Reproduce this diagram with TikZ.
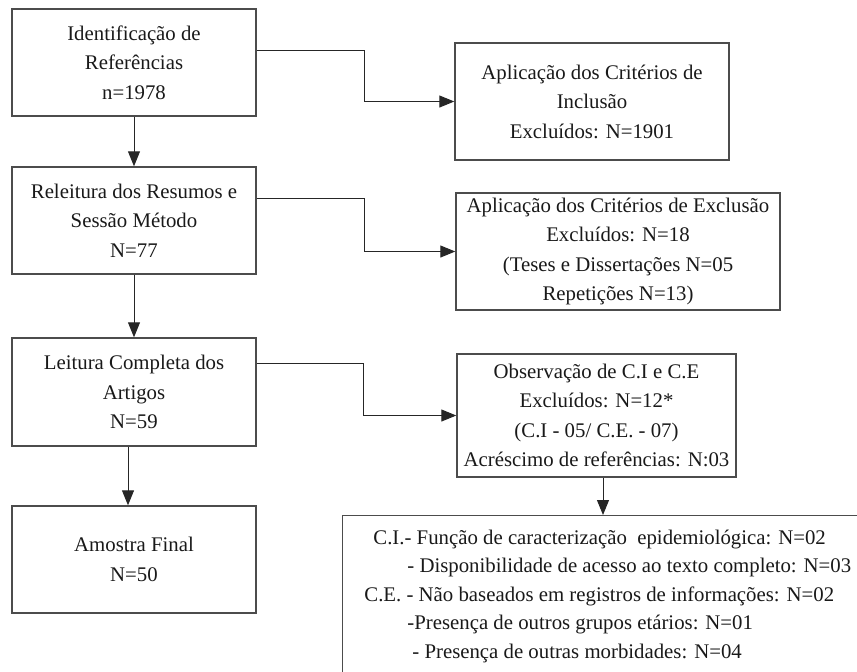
\documentclass[tikz,border=0pt]{standalone}
\usepackage{fontspec}
\setmainfont{Liberation Serif}
\usetikzlibrary{arrows.meta}
\begin{document}
\begin{tikzpicture}[x=0.5pt,y=-0.5pt,
  box/.style={draw=black!70, line width=0.7pt, align=center, inner sep=0pt,
    font=\fontsize{10.4}{14.75}\selectfont, text=black!90},
  line/.style={anchor=base west, inner sep=0pt, text=black!90,
    font=\fontsize{10.4}{14.25}\selectfont},
  arr/.style={draw=black!85, line width=0.5pt, -{Triangle[length=7.5pt,width=6pt]}}]
\useasboundingbox (0,0) rectangle (857,671);
\clip (0,0) rectangle (857,671);
\node[box, minimum width=122pt, minimum height=53.5pt] (b1) at (134,62.5)
  {Identificação de\\Referências\\n=1978};
\node[box, minimum width=137pt, minimum height=58.5pt] (b2) at (592,101.5)
  {Aplicação dos Critérios de\\Inclusão\\Excluídos: N=1901};
\node[box, minimum width=122pt, minimum height=53.5pt] (b3) at (134,220.5)
  {Releitura dos Resumos e\\Sessão Método\\N=77};
\node[box, minimum width=162pt, minimum height=58.5pt] (b4) at (618,251.5)
  {Aplicação dos Critérios de Exclusão\\Excluídos: N=18\\(Teses e Dissertações N=05\\Repetições N=13)};
\node[box, minimum width=122pt, minimum height=54pt] (b5) at (134,392)
  {Leitura Completa dos\\Artigos\\N=59};
\node[box, minimum width=139.5pt, minimum height=61.5pt] (b6) at (596.5,415.5)
  {Observação de C.I e C.E\\Excluídos: N=12*\\(C.I - 05/ C.E. - 07)\\Acréscimo de referências: N:03};
\node[box, minimum width=122pt, minimum height=53.5pt] (b7) at (134,559.5)
  {Amostra Final\\N=50};
\node[box, anchor=north west, minimum width=270pt, minimum height=90pt] (b8) at (342,515) {};
\node[line] (l1) at (373,544) {C.I.- Função de caracterização\ \ epidemiológica: N=02};
\node[line] (l2) at (407,572.5) {- Disponibilidade de acesso ao texto completo: N=03};
\node[line] (l3) at (364,601) {C.E. - Não baseados em registros de informações: N=02};
\node[line] (l4) at (407,629.5) {-Presença de outros grupos etários: N=01};
\node[line] (l5) at (412,658) {- Presença de outras morbidades: N=04};
\draw[arr] ([yshift=6.25pt]b1.east) -- ++(108,0) |- (b2.west);
\draw[arr] ([yshift=11.25pt]b3.east) -- ++(108,0) |- (b4.west);
\draw[arr] ([yshift=14.5pt]b5.east) -- ++(107,0) |- (b6.west);
\draw[arr] (b1.south) -- (b3.north);
\draw[arr] (b3.south) -- (b5.north);
\draw[arr] ([xshift=-3pt]b5.south) -- ([xshift=-3pt]b7.north);
\draw[arr] ([xshift=3.25pt]b6.south) -- ([xshift=3.25pt]b6.south |- b8.north);
\end{tikzpicture}
\end{document}
